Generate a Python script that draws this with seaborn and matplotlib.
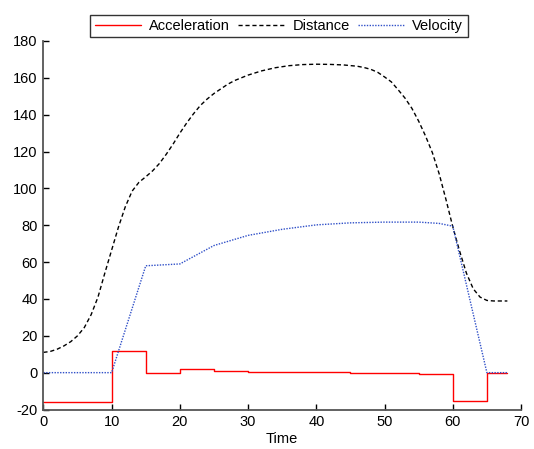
import matplotlib
matplotlib.use("Agg")
import matplotlib.pyplot as plt
import seaborn as sns
import pandas as pd

# ---- data ----
acc_time = [0, 10, 15, 20, 25, 30, 45, 55, 60, 65, 68]
acc_vals = [-16, 11.6, 0, 2, 1, 0.5, 0, -0.5, -15.5, 0, 0]

vel_time = [0, 10, 15, 20, 25, 30, 35, 40, 45, 50, 55, 58, 60, 65, 68]
vel_vals = [0, 0, 58, 59, 69, 74.5, 77.8, 80.2, 81.3, 81.7, 81.7, 81.0, 79.5, 0, 0]

dist_time = [0, 1, 2, 3, 4, 5, 6, 7, 8, 9, 10, 11, 12, 13, 14, 15, 16, 17, 18,
             19, 20, 21, 22, 23, 24, 25, 26, 27, 28, 30, 32, 34, 36, 38, 40,
             42, 44, 46, 47, 48, 49, 50, 51, 52, 53, 54, 55, 56, 57, 58, 59,
             60, 61, 62, 63, 64, 65, 66, 68]
dist_vals = [11, 11.5, 12.7, 14.5, 16.8, 20, 24.5, 31.5, 41, 54, 66.5, 79, 90,
             98.5, 103.3, 106.3, 109.5, 113.5, 118.5, 124, 130, 135.5, 140.5,
             145, 148.5, 151.5, 154, 156.5, 158.5, 161.5, 163.8, 165.5, 166.6,
             167.2, 167.4, 167.3, 167, 166.3, 165.6, 164.6, 163, 160.5, 157.8,
             153.5, 149, 143.5, 136.5, 128.5, 119.5, 108, 94, 79.2, 66, 54,
             45.5, 41, 39.2, 38.9, 38.9]

x_ticks = [0, 10, 20, 30, 40, 50, 60, 70]
y_ticks = [-20, 0, 20, 40, 60, 80, 100, 120, 140, 160, 180]

acc_df = pd.DataFrame({"Time": acc_time, "Value": acc_vals})
vel_df = pd.DataFrame({"Time": vel_time, "Value": vel_vals})
dist_df = pd.DataFrame({"Time": dist_time, "Value": dist_vals})

sns.set_theme(style="white")
plt.rcParams["font.family"] = ["Liberation Sans", "DejaVu Sans"]
plt.rcParams["axes.unicode_minus"] = False

fig = plt.figure(figsize=(5.34, 4.49), dpi=100)
ax = fig.add_axes([43.4 / 534, 1 - 409.5 / 449, (521 - 43.4) / 534, (409.5 - 41) / 449])

sns.lineplot(data=acc_df, x="Time", y="Value", ax=ax, color="#ff0000",
             linewidth=1.0, drawstyle="steps-post", label="Acceleration",
             estimator=None, sort=False)
sns.lineplot(data=dist_df, x="Time", y="Value", ax=ax, color="black",
             linewidth=1.0, label="Distance",
             estimator=None, sort=False, linestyle=(0, (3, 2)))
sns.lineplot(data=vel_df, x="Time", y="Value", ax=ax, color="#3050c8",
             linewidth=1.0, label="Velocity",
             estimator=None, sort=False, linestyle=(0, (1, 1)))

ax.set_xlim(0, 70)
ax.set_ylim(-20, 180)
ax.set_xticks(x_ticks)
ax.set_yticks(y_ticks)
ax.set_xlabel("Time", fontsize=10.5, labelpad=2, color="black")
ax.set_ylabel("")
ax.tick_params(axis="both", which="major", direction="in", length=4, width=1,
               colors="black", labelsize=10.5, pad=4,
               bottom=True, left=True, top=False, right=False)
for s in ["top", "right"]:
    ax.spines[s].set_visible(False)
for s in ["left", "bottom"]:
    ax.spines[s].set_color("#555555")
    ax.spines[s].set_linewidth(1.3)

if ax.legend_ is not None:
    ax.legend_.remove()
handles, labels = ax.get_legend_handles_labels()
leg = fig.legend(handles, labels, loc="center", ncol=3,
                 bbox_to_anchor=(279 / 534, 1 - 26 / 449),
                 bbox_transform=fig.transFigure, fontsize=10.5,
                 frameon=True, fancybox=False, edgecolor="black",
                 handlelength=3.2, handletextpad=0.5, columnspacing=0.6,
                 borderpad=0.3)
leg.get_frame().set_linewidth(1.0)
for t in leg.get_texts():
    t.set_color("black")

fig.savefig("out.png", dpi=100)
